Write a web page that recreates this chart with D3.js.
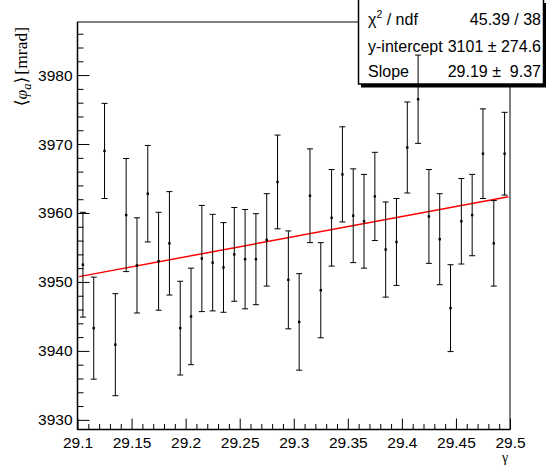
<!DOCTYPE html>
<html>
<head>
<meta charset="utf-8">
<script src="https://d3js.org/d3.v7.min.js"></script>
<style>
  body { margin: 0; background: #fff; }
  text { font-family: "Liberation Sans", Arial, sans-serif; }
</style>
</head>
<body>
<svg id="mainsvg"></svg>
<script>
// data
const gammaVals = [29.105, 29.115, 29.125, 29.135, 29.145, 29.155, 29.165, 29.175, 29.185, 29.195,
                   29.205, 29.215, 29.225, 29.235, 29.245, 29.255, 29.265, 29.275, 29.285, 29.295,
                   29.305, 29.315, 29.325, 29.335, 29.345, 29.355, 29.365, 29.375, 29.385, 29.395,
                   29.405, 29.415, 29.425, 29.435, 29.445, 29.455, 29.465, 29.475, 29.485, 29.495];
const phiVals = [3952.5, 3943.3, 3969.0, 3940.9, 3959.7, 3952.4, 3962.8, 3953.0, 3955.6, 3943.3,
                 3945.0, 3953.4, 3952.8, 3952.1, 3954.0, 3953.3, 3953.3, 3956.1, 3964.5, 3950.3,
                 3944.2, 3962.5, 3948.8, 3959.3, 3965.6, 3959.6, 3958.8, 3962.4, 3954.7, 3955.8,
                 3969.5, 3976.5, 3959.5, 3956.2, 3946.2, 3958.8, 3959.7, 3968.6, 3955.6, 3968.6];
const phiErrs = [7.6, 7.4, 6.9, 7.4, 8.2, 6.9, 7.0, 7.1, 7.5, 6.8,
                 7.0, 7.7, 7.0, 6.5, 6.8, 7.2, 6.6, 6.7, 6.8, 7.1,
                 7.0, 6.8, 6.9, 7.0, 6.9, 6.8, 6.8, 6.4, 6.9, 6.3,
                 6.6, 6.4, 6.8, 6.6, 6.3, 6.2, 5.9, 6.5, 6.2, 6.0];

// fit: intercept + slope * gamma
const fitIntercept = 3101.3;
const fitSlope = 29.19;
const fitRange = [29.1015, 29.4985];

const xTicks = [29.1, 29.15, 29.2, 29.25, 29.3, 29.35, 29.4, 29.45, 29.5];
const yTicks = [3930, 3940, 3950, 3960, 3970, 3980];
const xMinor = [29.11, 29.12, 29.13, 29.14, 29.16, 29.17, 29.18, 29.19, 29.21, 29.22, 29.23, 29.24,
                29.26, 29.27, 29.28, 29.29, 29.31, 29.32, 29.33, 29.34, 29.36, 29.37, 29.38, 29.39,
                29.41, 29.42, 29.43, 29.44, 29.46, 29.47, 29.48, 29.49];
const yMinor = [3932, 3934, 3936, 3938, 3942, 3944, 3946, 3948, 3952, 3954, 3956, 3958,
                3962, 3964, 3966, 3968, 3972, 3974, 3976, 3978, 3982, 3984, 3986];

const statLabels = ["χ", "y-intercept", "Slope"];
const statValues = ["45.39 / 38", "3101 ± 274.6", "29.19 ±  9.37"];

// chart settings
const width = 546, height = 467;
const margin = ({ top: 22, right: 36, bottom: 37.5, left: 77.5 });

const x = d3.scaleLinear([29.1, 29.5], [margin.left, width - margin.right]);
const y = d3.scaleLinear([3928.6, 3987.7], [height - margin.bottom, margin.top]);

const svg = d3.select("#mainsvg")
    .attr("width", width)
    .attr("height", height)
    .attr("viewBox", [0, 0, width, height]);

// frame
svg.append("rect")
    .attr("x", x(29.1)).attr("y", y(3987.7))
    .attr("width", x(29.5) - x(29.1))
    .attr("height", y(3928.6) - y(3987.7))
    .attr("fill", "none").attr("stroke", "#000").attr("stroke-width", 1);

// axes
const fmtX = d => String(+d.toFixed(2));
const gx = svg.append("g").attr("transform", `translate(0,${y(3928.6)})`);
gx.call(d3.axisBottom(x).tickValues(xTicks).tickFormat(fmtX).tickSize(-11).tickPadding(7));
gx.append("g").call(d3.axisBottom(x).tickValues(xMinor).tickFormat("").tickSize(-5.5));

const gy = svg.append("g").attr("transform", `translate(${x(29.1)},0)`);
gy.call(d3.axisLeft(y).tickValues(yTicks).tickFormat(d3.format("d")).tickSize(-12).tickPadding(5));
gy.append("g").call(d3.axisLeft(y).tickValues(yMinor).tickFormat("").tickSize(-6));

svg.selectAll(".domain").remove();
svg.selectAll(".tick line").attr("stroke", "#000");
svg.selectAll(".tick text")
    .attr("fill", "#000")
    .style("font-size", "15.5px")
    .style("font-family", "'Liberation Sans', Arial, sans-serif");

// heavier axis lines
svg.append("line")
    .attr("x1", x(29.1)).attr("x2", x(29.1))
    .attr("y1", y(3987.7)).attr("y2", y(3928.6))
    .attr("stroke", "#000").attr("stroke-width", 1.5);
svg.append("line")
    .attr("x1", x(29.1)).attr("x2", x(29.5))
    .attr("y1", y(3928.6)).attr("y2", y(3928.6))
    .attr("stroke", "#000").attr("stroke-width", 1.5);

// axis titles
const ytitle = svg.append("text")
    .attr("transform", "translate(27,27) rotate(-90)")
    .attr("text-anchor", "end")
    .style("font-family", "'Liberation Serif', 'DejaVu Serif', serif")
    .style("font-size", "17.5px");
ytitle.append("tspan").text("⟨");
ytitle.append("tspan").attr("font-style", "italic").text("φ");
ytitle.append("tspan").attr("font-style", "italic").attr("font-size", "12.5px").attr("dy", 3.5).text("a");
ytitle.append("tspan").attr("dy", -3.5).text("⟩");
ytitle.append("tspan").attr("dx", 2).text("[mrad]");

svg.append("text")
    .attr("x", 505).attr("y", 462)
    .attr("text-anchor", "middle")
    .style("font-family", "'Liberation Serif', 'DejaVu Serif', serif")
    .style("font-size", "14px")
    .text("γ");

// stats box
const box = svg.append("g");
box.append("rect")
    .attr("x", 361).attr("y", 3).attr("width", 188).attr("height", 84.5)
    .attr("fill", "#000");
box.append("rect")
    .attr("x", 358.5).attr("y", -1).attr("width", 185).attr("height", 85)
    .attr("fill", "#fff").attr("stroke", "#000").attr("stroke-width", 1.5);

const rowY = [25, 52, 77];
box.selectAll("text.lab")
    .data(statLabels)
    .join("text")
    .attr("class", "lab")
    .attr("x", 368)
    .attr("y", (d, i) => rowY[i])
    .style("font-size", "16px")
    .text(d => d);
box.select("text.lab")
    .append("tspan").attr("font-size", "10.5px").attr("dy", -7).text("2")
    .select(function() { return this.parentNode; })
    .append("tspan").attr("dy", 7).text(" / ndf");

box.selectAll("text.val")
    .data(statValues)
    .join("text")
    .attr("class", "val")
    .attr("x", 541)
    .attr("y", (d, i) => rowY[i])
    .attr("text-anchor", "end")
    .attr("xml:space", "preserve")
    .style("white-space", "pre")
    .style("font-size", "16px")
    .text(d => d);

// fit line
const line = d3.line().x(d => x(d)).y(d => y(fitIntercept + fitSlope * d));
svg.append("path")
    .attr("d", line(fitRange))
    .attr("fill", "none")
    .attr("stroke", "#ff0000")
    .attr("stroke-width", 1.5);

// data with error bars
const points = gammaVals.map((g, i) => ({ g, v: phiVals[i], e: phiErrs[i] }));
const pts = svg.append("g").attr("stroke", "#000").attr("stroke-width", 1);
pts.selectAll("line.bar")
    .data(points)
    .join("line")
    .attr("x1", d => x(d.g)).attr("x2", d => x(d.g))
    .attr("y1", d => y(d.v - d.e)).attr("y2", d => y(d.v + d.e));
pts.selectAll("line.capt")
    .data(points)
    .join("line")
    .attr("class", "capt")
    .attr("x1", d => x(d.g) - 3).attr("x2", d => x(d.g) + 3)
    .attr("y1", d => y(d.v + d.e)).attr("y2", d => y(d.v + d.e));
pts.selectAll("line.capb")
    .data(points)
    .join("line")
    .attr("class", "capb")
    .attr("x1", d => x(d.g) - 3).attr("x2", d => x(d.g) + 3)
    .attr("y1", d => y(d.v - d.e)).attr("y2", d => y(d.v - d.e));
svg.append("g").selectAll("rect")
    .data(points)
    .join("rect")
    .attr("x", d => x(d.g) - 1.2).attr("y", d => y(d.v) - 1.2)
    .attr("width", 2.4).attr("height", 2.4)
    .attr("fill", "#000");
</script>
</body>
</html>
